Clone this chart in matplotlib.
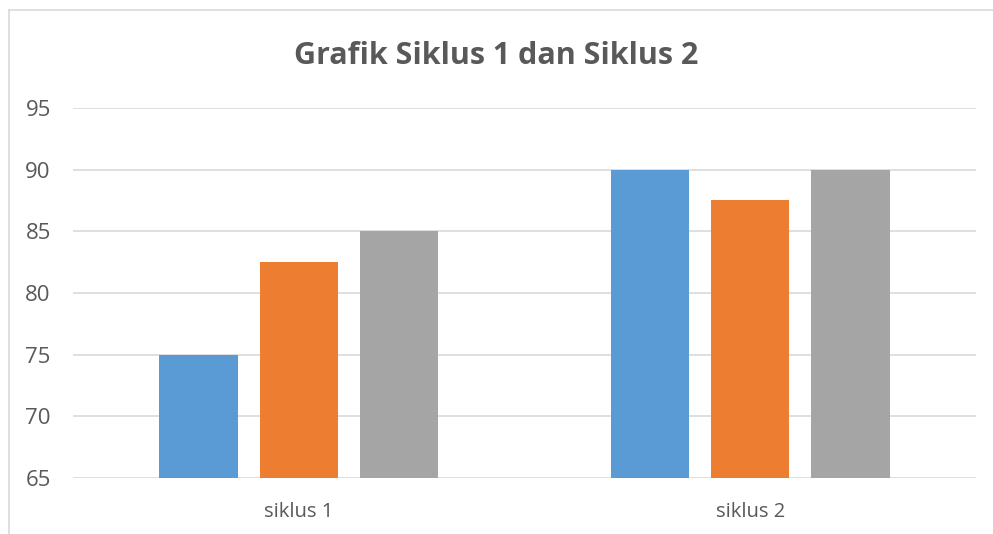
import matplotlib.pyplot as plt
from matplotlib.lines import Line2D
import numpy as np

categories = ["siklus 1", "siklus 2"]
series_a = [75, 90]
series_b = [82.5, 87.5]
series_c = [85, 90]
colors = ["#5B9BD5", "#ED7D31", "#A5A5A5"]
yticks = [65, 70, 75, 80, 85, 90, 95]

plt.rcParams['font.family'] = ['Open Sans', 'DejaVu Sans']

fig = plt.figure(figsize=(9.93, 5.34), dpi=100)
ax = fig.add_axes([73/993, 1 - 478/534, 903/993, 370/534])

x = np.arange(len(categories))
w = 0.173
step = 0.222
for i, (vals, c) in enumerate(zip([series_a, series_b, series_c], colors)):
    ax.bar(x + (i - 1) * step, [v - 65 for v in vals], width=w, bottom=65,
           color=c, zorder=3)

ax.set_xlim(-0.5, 1.5)
ax.set_ylim(65, 95)
ax.set_yticks(yticks)
ax.set_yticklabels([str(t) for t in yticks], fontsize=16, color="#595959")
ax.set_xticks(x)
ax.set_xticklabels(categories, fontsize=14.5, color="#595959")
ax.tick_params(length=0)
ax.tick_params(axis='y', pad=16)
ax.tick_params(axis='x', pad=17)
ax.grid(axis='y', color="#D9D9D9", linewidth=1.2, zorder=0)
for s in ax.spines.values():
    s.set_visible(False)

fig.text(0.5, 1 - 56/534, "Grafik Siklus 1 dan Siklus 2", ha='center', va='center',
         fontsize=22, fontweight='bold', color="#595959")

# chart frame (left and top edges)
fig.add_artist(Line2D([9/993, 9/993], [0, 1 - 10/534], transform=fig.transFigure,
                      color="#D9D9D9", linewidth=1.2))
fig.add_artist(Line2D([9/993, 1], [1 - 10/534, 1 - 10/534], transform=fig.transFigure,
                      color="#D9D9D9", linewidth=1.2))

fig.savefig("out.png", dpi=100)
